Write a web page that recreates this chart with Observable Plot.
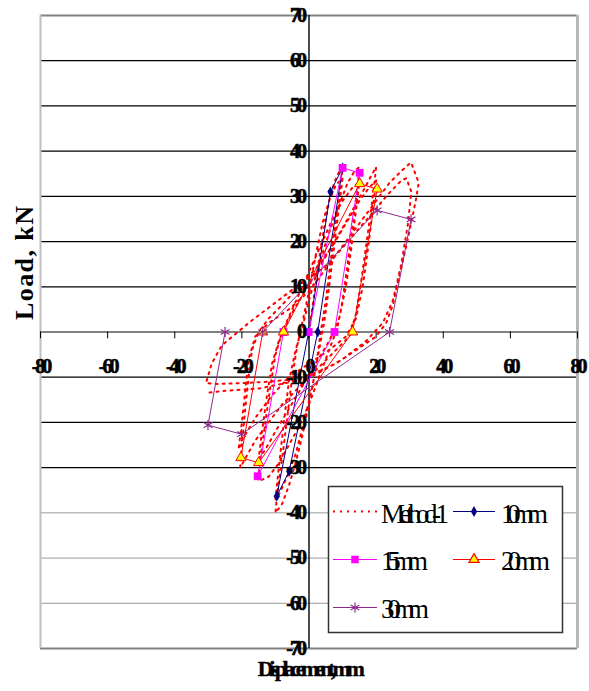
<!DOCTYPE html>
<html><head><meta charset="utf-8">
<script src="https://cdn.jsdelivr.net/npm/d3@7"></script>
<script src="https://cdn.jsdelivr.net/npm/@observablehq/plot@0.6"></script>
<style>
html,body{margin:0;padding:0;background:#fff;}
#wrap{position:relative;width:589px;height:691px;}
.ytl text,.xtl text{letter-spacing:-3px;}
</style></head><body><div id="wrap"></div>
<script>
// ---- data ----
const xTicks = [-80,-60,-40,-20,0,20,40,60,80];
const yTicks = [70,60,50,40,30,20,10,0,-10,-20,-30,-40,-50,-60,-70];
const xTitle = "Displacement, mm";
const yTitle = "Load, kN";

const method1X = [0,1.5,3,4.5,6,7.5,9,10,9.5,8,6.5,5,3.5,2,0,-2,-4,-6,-8,-10,-9.5,-8,-6.5,-5,-3.5,-2,
  0,2,4,6,8,10,9,7.5,6,4.5,3,1,-1.5,-4,-6.5,-9,-10,-9,-7.5,-6,-4,-2,
  0,3,6,9,11.5,13.5,15,14.5,13,11.5,10,8.5,6,3,0,-3,-6,-9,-12,-15,-14.5,-13,-11.5,-10,-8,
  -5,-2,1,4,7,10,13,15,14,12.5,11,9,6,2,-2,-6,-10,-13,-15,-14,-12.5,-11,-9,
  -6,-2,2,6,10,13,16,18.5,20,19.5,18.5,17,15.5,14,12,8,4,0,-4,-8,-12,-16,-19,-20.5,-20,-19,-18,-17,-15,
  -12,-8,-3,2,7,11,15,18,20,19,17.5,16,14,11,6,0,-6,-11,-16,-20,-21,-20,-19,-18,-16,
  -12,-6,0,5,10,15,20,24,27.5,30.4,32.7,31.8,29,26.9,25,23,20,14,8,2,-5,-12,-20,-27,-30.7,-29,-26,-23.3,
  -17.3,-9.3,-2.4,5.7,11.6,17.6,23.6,27.5,29,30.5,29.5,27.5,25,22,17,10,3,-5,-15,-25,-31];
const method1Y = [0,8,16,23,29,33,35.5,36.5,33,25,16,7,0,-8,-16,-23,-29,-34,-38,-40,-36,-28,-19,-10,-3,2,
  9,17,24,29,32.5,34,28,19,10,2,-4,-12,-20,-27,-32,-36,-37,-30,-20,-11,-4,1,
  7,15,22,28,33,35.5,36.5,32,24,15,7,1,-4,-10,-16,-21,-25,-29,-32,-33,-28,-20,-12,-5,0,
  5,10,15,20,25,29,32,33,27,18,10,3,-2,-7,-12,-17,-22,-26,-28,-22,-14,-7,-2,
  3,8,13,18,23,27,31,34.5,36.5,33,27,19,11,4,-1,-4,-7,-10,-13,-16,-20,-24,-28,-30,-25,-17,-10,-4,0,
  3,6,10,14,19,24,29,32,33.5,27,18,10,3,-1,-4,-7,-10,-14,-19,-24,-26,-20,-13,-6,-1,
  2,5,9,14,19,24,29,33,35.6,37.5,33,29,19,12.4,6,2,-1,-4,-7,-9,-10.5,-11,-11.3,-11.5,-11.3,-7,-3,-1.3,
  2.4,6.9,10.8,15,20,25.2,30.5,33.5,34,31,24,15,7,2,-2,-6,-9,-11,-12.5,-13,-13.5];

const s10X = [0,6.4,10,2.6,-5.9,-9.6,-0.1];
const s10Y = [0,31,36.3,0,-30.8,-36.3,0];
const s15X = [-0.1,10,15.1,7.6,-15.3,-7.6];
const s15Y = [0,36.3,35.2,0,-31.9,0];
const s20X = [-7.6,15.1,20.3,13,-15,-20.3,-13.8];
const s20Y = [0,32.8,31.6,0,-28.9,-27.8,0];
const s30X = [-13.8,20.3,30.4,24,-20.1,-30.1,-25];
const s30Y = [0,26.9,24.9,0,-22.6,-20.6,0];

const legendNames = ["Method-1","10mm","15mm","20mm","30mm"];

// ---- build ----
const zip = (X, Y) => X.map((x, i) => ({x, y: Y[i]}));
const m1 = zip(method1X, method1Y);
const d10 = zip(s10X, s10Y), d15 = zip(s15X, s15Y), d20 = zip(s20X, s20Y), d30 = zip(s30X, s30Y);

const yMax = d3.max(yTicks), yMin = d3.min(yTicks);
const xMin = d3.min(xTicks), xMax = d3.max(xTicks);
const gridBlack = yTicks.filter(d => d > -40 && d !== 0 && d > yMin && d < yMax);
const gridGray = yTicks.filter(d => d <= -40 && d > yMin);

const C10 = "#000080", C15 = "#ff00ff", C20 = "#ff0000", C30 = "#8e2a8e", TRI = "#ffff00";
const font = "Liberation Serif, Times New Roman, serif";
const DASH = "2,5";

const chart = Plot.plot({
  width: 589, height: 691,
  marginLeft: 40, marginRight: 12, marginTop: 15, marginBottom: 43,
  x: {domain: [xMin, xMax], axis: null},
  y: {domain: [yMin, yMax], axis: null},
  style: {background: "#fff"},
  marks: [
    Plot.ruleY(gridBlack, {stroke: "#000", strokeWidth: 1.3}),
    Plot.ruleY(gridGray, {stroke: "#9a9a9a", strokeWidth: 1}),
    Plot.ruleY([yMax], {stroke: "#808080", strokeWidth: 2}),
    Plot.ruleY([yMin], {stroke: "#808080", strokeWidth: 2}),
    Plot.ruleX([xMin], {stroke: "#c0c0c0", strokeWidth: 2}),
    Plot.ruleX([xMax], {stroke: "#b8b8b8", strokeWidth: 3}),
    Plot.ruleX([0], {stroke: "#000", strokeWidth: 1.4}),
    Plot.ruleY([0], {stroke: "#808080", strokeWidth: 2}),
    Plot.ruleX(xTicks, {x: d => d, y1: 0, y2: -1.5, stroke: "#000", strokeWidth: 1}),
    Plot.line(m1, {x: "x", y: "y", stroke: "#ff0000", strokeWidth: 2, strokeDasharray: DASH}),
    Plot.line(d10, {x: "x", y: "y", stroke: C10, strokeWidth: 1}),
    Plot.dot(d10, {x: "x", y: "y", symbol: "diamond", r: 3.3, fill: C10, stroke: "none"}),
    Plot.line(d15, {x: "x", y: "y", stroke: C15, strokeWidth: 1}),
    Plot.dot(d15, {x: "x", y: "y", symbol: "square", r: 4.4, fill: C15, stroke: "none"}),
    Plot.line(d20, {x: "x", y: "y", stroke: C20, strokeWidth: 1}),
    Plot.dot(d20, {x: "x", y: "y", symbol: "triangle", r: 3.8, fill: TRI, stroke: C20, strokeWidth: 1}),
    Plot.line(d30, {x: "x", y: "y", stroke: C30, strokeWidth: 1}),
    Plot.dot(d30, {x: "x", y: "y", symbol: "asterisk", r: 4.8, stroke: C30, strokeWidth: 1.2}),
    Plot.text(yTicks, {x: d => 0, y: d => d, text: d => String(d), textAnchor: "end", dx: -5,
      fontSize: 20, fontWeight: "bold", fontFamily: font, fill: "#000",
      stroke: "#000", strokeWidth: 0.6, className: "ytl"}),
    Plot.text(xTicks, {x: d => d, y: d => 0, text: d => String(d), dy: 35, dx: 0,
      fontSize: 20, fontWeight: "bold", fontFamily: font, fill: "#000",
      stroke: "#000", strokeWidth: 0.6, className: "xtl"}),
    Plot.text([xTitle], {frameAnchor: "bottom", text: d => d, dy: 27,
      fontSize: 22, fontWeight: "bold", fontFamily: font, fill: "#000",
      stroke: "#000", strokeWidth: 0.4, className: "ttlx"}),
    Plot.text([yTitle], {frameAnchor: "left", text: d => d, rotate: -90, dx: -16, dy: -12,
      fontSize: 26, fontWeight: "bold", fontFamily: font, fill: "#000", className: "ttly"})
  ]
});

const svg = d3.select(chart);

// ---- legend ----
const lg = svg.append("g").attr("class", "legend").attr("text-anchor", "start");
lg.append("rect").attr("x", 328.5).attr("y", 486.5).attr("width", 234).attr("height", 146)
  .attr("fill", "#fff").attr("stroke", "#333").attr("stroke-width", 1.5);
const entries = [
  {name: legendNames[0], col: 0, row: 0, color: "#ff0000", dash: DASH, sw: 2, sym: null, tw: 68},
  {name: legendNames[1], col: 1, row: 0, color: C10, sym: d3.symbolDiamond, size: 34, fill: C10, stroke: "none", tw: 47},
  {name: legendNames[2], col: 0, row: 1, color: C15, sym: d3.symbolSquare, size: 56, fill: C15, stroke: "none", tw: 47},
  {name: legendNames[3], col: 1, row: 1, color: C20, sym: d3.symbolTriangle, size: 45, fill: TRI, stroke: C20, tw: 49},
  {name: legendNames[4], col: 0, row: 2, color: C30, sym: d3.symbolAsterisk, size: 70, fill: "none", stroke: C30, tw: 48}
];
const rowY = [511.5, 559.5, 607.5];
const rowBase = [523, 570, 618];
const colX = [[333, 377], [453, 495]];
const textX = [381, 501];
const legendTexts = [];
for (const e of entries) {
  const [x1, x2] = colX[e.col], y = rowY[e.row];
  lg.append("line").attr("x1", x1).attr("x2", x2).attr("y1", y).attr("y2", y)
    .attr("stroke", e.color).attr("stroke-width", e.sw || 1.2)
    .attr("stroke-dasharray", e.dash || null);
  if (e.sym) {
    lg.append("path").attr("d", d3.symbol(e.sym, e.size)())
      .attr("transform", `translate(${(x1 + x2) / 2},${y})`)
      .attr("fill", e.fill).attr("stroke", e.stroke).attr("stroke-width", 1.2);
  }
  const t = lg.append("text").attr("x", textX[e.col]).attr("y", rowBase[e.row])
    .attr("text-anchor", "start")
    .attr("font-family", font).attr("font-size", 27).attr("fill", "#000").text(e.name);
  legendTexts.push([t.node(), e.tw]);
}

document.getElementById("wrap").appendChild(chart);

// squeeze texts to the reference widths with letter spacing
function fit(el, target) {
  if (!el) return;
  el.style.letterSpacing = "0px";
  const w = el.getComputedTextLength();
  const n = el.textContent.length;
  el.style.letterSpacing = ((target - w) / (n - 1)) + "px";
}
for (const [el, tw] of legendTexts) fit(el, tw);
fit(chart.querySelector(".ttlx text"), 107);
fit(chart.querySelector(".ttly text"), 114);
</script></body></html>
